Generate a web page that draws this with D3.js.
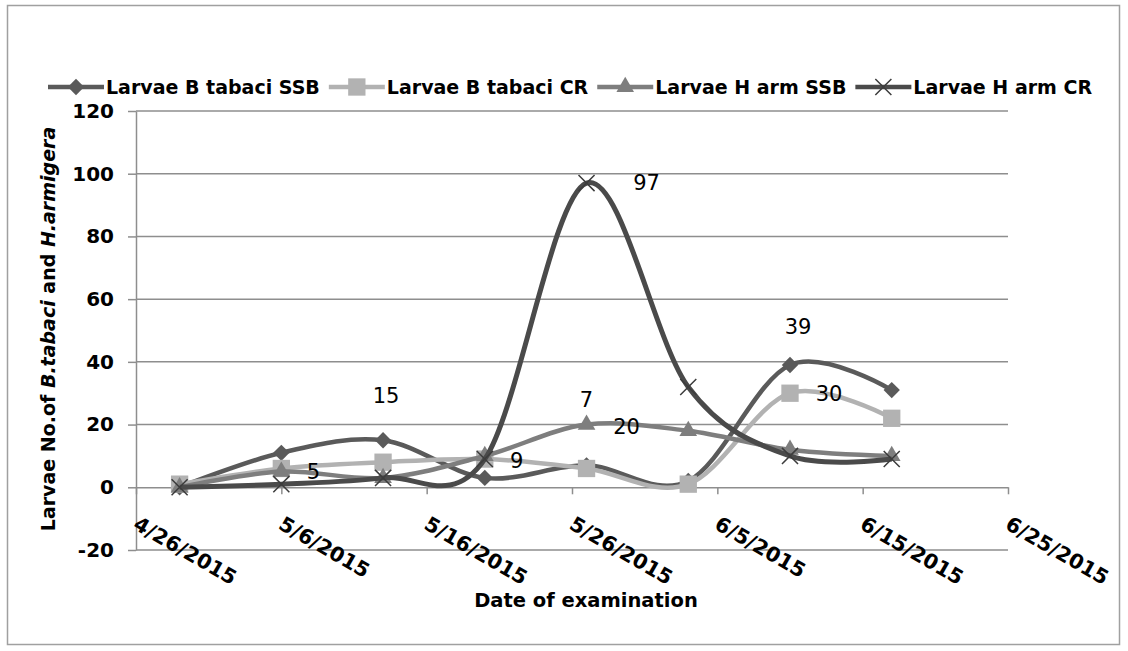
<!DOCTYPE html>
<html>
<head>
<meta charset="utf-8">
<script src="https://cdn.jsdelivr.net/npm/d3@7"></script>
<style>
  body { margin: 0; background: #fff; }
  svg { display: block; }
</style>
</head>
<body>
<div id="container-chart"></div>
<script>
// sampling dates and counts
var dates = ["2015-04-29", "2015-05-06", "2015-05-13", "2015-05-20", "2015-05-27", "2015-06-03", "2015-06-10", "2015-06-17"];
var seriesNames = ["Larvae B tabaci SSB", "Larvae B tabaci CR", "Larvae H arm SSB", "Larvae H arm CR"];
var btabaciSSB = [0, 11, 15, 3, 7, 2, 39, 31];
var btabaciCR = [1, 6, 8, 9, 6, 1, 30, 22];
var harmSSB = [0, 5, 3, 10, 20, 18, 12, 10];
var harmCR = [0, 1, 3, 9, 97, 32, 10, 9];
var xTicks = ["2015-04-26", "2015-05-06", "2015-05-16", "2015-05-26", "2015-06-05", "2015-06-15", "2015-06-25"];
var yTicks = [-20, 0, 20, 40, 60, 80, 100, 120];
// data labels: series index, point index, text
var labels = [[0, 2, "15"], [2, 1, "5"], [3, 3, "9"], [2, 4, "7"], [2, 4, "20"], [3, 4, "97"], [0, 6, "39"], [1, 6, "30"]];
var labelOffsets = [[3, -45], [32, 0], [32, 2], [0, -25], [40, 2], [60, 0], [8, -38], [39, 0]];

var width = 1128, height = 651;
var parse = d3.timeParse("%Y-%m-%d");
var fmt = d3.timeFormat("%-m/%-d/%Y");

var series = [btabaciSSB, btabaciCR, harmSSB, harmCR].map((vals, i) => ({
  name: seriesNames[i],
  values: vals.map((v, j) => ({ date: parse(dates[j]), value: v }))
}));
var colors = ["#5a5a5a", "#b2b2b2", "#7e7e7e", "#4a4a4a"];
var symbols = [d3.symbolDiamond2, d3.symbolSquare, d3.symbolTriangle, d3.symbolX];
var symSizes = [170, 300, 135, 170];

var svg = d3.select("#container-chart")
  .append("svg")
    .attr("width", width)
    .attr("height", height);

svg.append("rect")
  .attr("x", 7.5).attr("y", 5.5)
  .attr("width", 1112).attr("height", 639)
  .attr("fill", "none")
  .attr("stroke", "#a0a0a0")
  .attr("stroke-width", 1.5);

var x = d3.scaleTime()
  .domain([parse(xTicks[0]), parse(xTicks[xTicks.length - 1])])
  .range([136, 1008]);
var y = d3.scaleLinear()
  .domain([-20, 120])
  .range([550, 111]);

// gridlines
svg.append("g")
  .selectAll("line")
  .data(yTicks.filter(d => d !== 0))
  .join("line")
    .attr("x1", x.range()[0]).attr("x2", x.range()[1])
    .attr("y1", d => y(d)).attr("y2", d => y(d))
    .attr("stroke", "#8e8e8e")
    .attr("stroke-width", 1.5);

// y axis
var yAxis = svg.append("g")
  .attr("transform", "translate(" + x.range()[0] + ",0)")
  .call(d3.axisLeft(y).tickValues(yTicks).tickSize(8).tickSizeOuter(0).tickPadding(14)
    .tickFormat(d => String(d)));
yAxis.selectAll("path, line").attr("stroke", "#8e8e8e").attr("stroke-width", 1.5);
yAxis.selectAll("text")
  .attr("font-family", "DejaVu Sans")
  .attr("font-weight", "bold")
  .attr("font-size", 20)
  .attr("fill", "#000");

// x axis sits on the zero line
var xAxis = svg.append("g")
  .attr("transform", "translate(0," + y(0) + ")")
  .call(d3.axisBottom(x).tickValues(xTicks.map(parse)).tickSize(7).tickSizeOuter(0).tickFormat(""));
xAxis.selectAll("path, line").attr("stroke", "#8e8e8e").attr("stroke-width", 1.5);

svg.append("g")
  .selectAll("text")
  .data(xTicks.map(parse))
  .join("text")
    .attr("transform", d => "translate(" + (x(d) - 4) + ",528) rotate(30)")
    .attr("font-family", "DejaVu Sans")
    .attr("font-weight", "bold")
    .attr("font-size", 20.5)
    .text(d => fmt(d));

// axis titles
svg.append("text")
  .attr("x", 586).attr("y", 607)
  .attr("text-anchor", "middle")
  .attr("font-family", "DejaVu Sans")
  .attr("font-weight", "bold")
  .attr("font-size", 19.5)
  .text("Date of examination");

var yTitle = svg.append("text")
  .attr("transform", "translate(55,329) rotate(-90)")
  .attr("text-anchor", "middle")
  .attr("font-family", "DejaVu Sans")
  .attr("font-weight", "bold")
  .attr("font-size", 19);
yTitle.append("tspan").text("Larvae No.of ");
yTitle.append("tspan").attr("font-style", "italic").text("B.tabaci");
yTitle.append("tspan").text(" and ");
yTitle.append("tspan").attr("font-style", "italic").text("H.armigera");

// lines (Excel style smoothed)
var line = d3.line()
  .x(d => x(d.date))
  .y(d => y(d.value))
  .curve(d3.curveCardinal);

series.forEach((s, i) => {
  svg.append("path")
    .datum(s.values)
    .attr("fill", "none")
    .attr("stroke", colors[i])
    .attr("stroke-width", i === 3 ? 5 : 4.5)
    .attr("d", line);

  svg.append("g")
    .selectAll("path")
    .data(s.values)
    .join("path")
      .attr("transform", d => "translate(" + x(d.date) + "," + y(d.value) + ")")
      .attr("d", d3.symbol(symbols[i], symSizes[i]))
      .attr("fill", i === 3 ? "none" : colors[i])
      .attr("stroke", i === 3 ? "#3c3c3c" : "none")
      .attr("stroke-width", 1.5);
});

// data labels
svg.append("g")
  .selectAll("text")
  .data(labels)
  .join("text")
    .attr("x", (d, i) => x(series[d[0]].values[d[1]].date) + labelOffsets[i][0])
    .attr("y", (d, i) => y(series[d[0]].values[d[1]].value) + labelOffsets[i][1])
    .attr("dy", "0.35em")
    .attr("text-anchor", "middle")
    .attr("font-family", "DejaVu Sans")
    .attr("font-size", 21)
    .text(d => d[2]);

// legend
var legend = svg.append("g");
var lx = 48, ly = 87;
series.forEach((s, i) => {
  var g = legend.append("g");
  g.append("line")
    .attr("x1", lx).attr("x2", lx + 56)
    .attr("y1", ly).attr("y2", ly)
    .attr("stroke", colors[i])
    .attr("stroke-width", 4.5);
  g.append("path")
    .attr("transform", "translate(" + (lx + 28) + "," + ly + ")")
    .attr("d", d3.symbol(symbols[i], symSizes[i]))
    .attr("fill", i === 3 ? "none" : colors[i])
    .attr("stroke", i === 3 ? "#3c3c3c" : "none")
    .attr("stroke-width", 1.5);
  var t = g.append("text")
    .attr("x", lx + 58).attr("y", ly + 7)
    .attr("font-family", "DejaVu Sans")
    .attr("font-weight", "bold")
    .attr("font-size", 19)
    .text(s.name);
  lx += 58 + t.node().getComputedTextLength() + 9;
});
</script>
</body>
</html>
